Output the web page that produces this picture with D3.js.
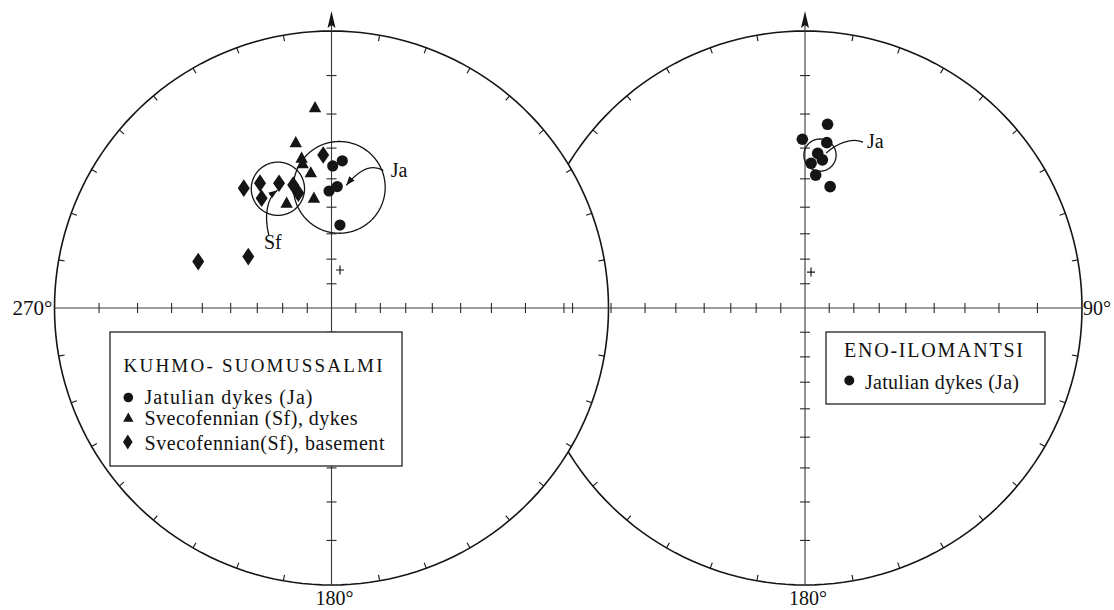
<!DOCTYPE html>
<html>
<head>
<meta charset="utf-8">
<script src="https://cdn.jsdelivr.net/npm/d3@7"></script>
<style>
  body { margin: 0; background: #fff; }
  svg { display: block; }
  text { font-family: "Liberation Serif", "Times New Roman", serif; fill: #111; }
</style>
</head>
<body>
<svg id="chart" width="1114" height="610"></svg>
<script>
// ---------------- DATA (declination °, inclination °) ----------------
const netTitles = ["KUHMO- SUOMUSSALMI", "ENO-ILOMANTSI"];

// Kuhmo-Suomussalmi
const kuhmoJaDec = [0.5, 4.2, 358.8, 2.7, 5.8];
const kuhmoJaInc = [35.7, 33.9, 44.2, 42.6, 56.5];
const kuhmoSfDykeDec = [355.3, 347.8, 348.7, 348.7, 351.3, 336.8, 350.9];
const kuhmoSfDykeInc = [18.1, 27.2, 32.3, 34.1, 37.5, 45.3, 46.3];
const kuhmoSfBaseDec = [356.9, 323.8, 330.2, 327.5, 337.2, 342.7, 343.9, 289.2, 301.7];
const kuhmoSfBaseInc = [32.1, 33.6, 35.1, 39.7, 37.9, 40.1, 43.3, 36.0, 51.1];
const kuhmoMeanLabels = ["Ja", "Sf"];
const kuhmoMeanDec = [3.7, 335.8];
const kuhmoMeanInc = [43.8, 39.8];
const kuhmoMeanA95 = [15.9, 9.0];
const kuhmoSite = [12.6, 74.0];

// Eno-Ilomantsi
const enoJaDec = [7.0, 359.1, 7.5, 4.7, 6.7, 2.4, 4.6, 11.7];
const enoJaInc = [22.5, 27.3, 27.9, 31.5, 33.4, 34.8, 38.6, 41.8];
const enoMeanLabels = ["Ja"];
const enoMeanDec = [5.6];
const enoMeanInc = [32.1];
const enoMeanA95 = [5.1];
const enoSite = [9.5, 75.0];

// legend texts
const kuhmoLegend = ["Jatulian dykes (Ja)", "Svecofennian (Sf), dykes", "Svecofennian(Sf), basement"];
const enoLegend = ["Jatulian dykes (Ja)"];

// axis / tick labels
const axisTickInc = [10, 20, 30, 40, 50, 60, 70, 80];
const rimTickStep = 10;
const dirLabels = ["270°", "90°", "180°", "180°"];

// ---------------- LAYOUT ----------------
const svg = d3.select("#chart");
const R = 277;
const centers = [[331.5, 308], [805, 308]];
const ink = "#151515";

const projs = centers.map(c =>
  d3.geoStereographic().rotate([0, -90]).scale(R).translate(c).clipAngle(170).precision(0.1)
);
const P = (proj, dec, inc) => proj([180 - dec, inc]);

const defs = svg.append("defs");
const mask = defs.append("mask").attr("id", "outsideLeft")
  .attr("maskUnits", "userSpaceOnUse").attr("x", 0).attr("y", 0).attr("width", 1114).attr("height", 610);
mask.append("rect").attr("width", 1114).attr("height", 610).attr("fill", "#fff");
mask.append("circle").attr("cx", centers[0][0]).attr("cy", centers[0][1]).attr("r", R).attr("fill", "#000");

defs.append("marker").attr("id", "arrow")
  .attr("markerUnits", "userSpaceOnUse").attr("markerWidth", 10).attr("markerHeight", 8)
  .attr("refX", 9).attr("refY", 4).attr("orient", "auto")
  .append("path").attr("d", "M0,0.5 L9,4 L0,7.5 Z").attr("fill", ink);

const gNet = svg.append("g");

// outlines + rim ticks
projs.forEach((proj, i) => {
  const c = centers[i];
  const g = gNet.append("g");
  if (i === 1) g.attr("mask", "url(#outsideLeft)");
  const horizon = d3.geoCircle().center([0, 90]).radius(90)();
  g.append("path").attr("d", d3.geoPath(proj)(horizon))
    .attr("fill", "none").attr("stroke", ink).attr("stroke-width", 1.6);
  const rim = d3.range(rimTickStep, 360, rimTickStep).filter(a => a % 90 !== 0);
  rim.forEach(az => {
    const p0 = P(proj, az, 0);
    const ux = (p0[0] - c[0]) / R, uy = (p0[1] - c[1]) / R;
    g.append("line")
      .attr("x1", p0[0]).attr("y1", p0[1])
      .attr("x2", p0[0] - 6 * ux).attr("y2", p0[1] - 6 * uy)
      .attr("stroke", ink).attr("stroke-width", 1.1);
  });
});

// horizontal axis across both nets
{
  const a = P(projs[0], 270, 0), b = P(projs[1], 90, 0);
  gNet.append("line").attr("x1", a[0]).attr("y1", a[1]).attr("x2", b[0]).attr("y2", b[1])
    .attr("stroke", "#3a3a3a").attr("stroke-width", 1.1);
}

// vertical axes with north arrow, axis ticks, site crosses
projs.forEach((proj, i) => {
  const c = centers[i];
  const top = P(proj, 0, 0), bot = P(proj, 180, 0);
  gNet.append("line").attr("x1", c[0]).attr("y1", top[1] - 14).attr("x2", bot[0]).attr("y2", bot[1])
    .attr("stroke", "#3a3a3a").attr("stroke-width", 1.1);
  gNet.append("path")
    .attr("d", `M${c[0]},${top[1] - 20} L${c[0] + 4},${top[1] - 3} L${c[0]},${top[1] - 6} L${c[0] - 4},${top[1] - 3} Z`)
    .attr("fill", ink);
  [0, 90, 180, 270].forEach(dir => {
    axisTickInc.forEach(inc => {
      const p = P(proj, dir, inc);
      const vert = (dir === 90 || dir === 270);
      gNet.append("line")
        .attr("x1", vert ? p[0] : p[0] - 5).attr("x2", vert ? p[0] : p[0] + 5)
        .attr("y1", vert ? p[1] - 5 : p[1]).attr("y2", vert ? p[1] + 5 : p[1])
        .attr("stroke", "#2a2a2a").attr("stroke-width", 1.1);
    });
  });
  const site = i === 0 ? kuhmoSite : enoSite;
  const s = P(proj, site[0], site[1]);
  gNet.append("path").attr("d", `M${s[0] - 4},${s[1]} H${s[0] + 4} M${s[0]},${s[1] - 4.5} V${s[1] + 4.5}`)
    .attr("stroke", ink).attr("stroke-width", 1.2).attr("fill", "none");
});

// direction labels
const lp = [P(projs[0], 270, 0), P(projs[1], 90, 0), P(projs[0], 180, 0), P(projs[1], 180, 0)];
svg.append("text").text(dirLabels[0]).attr("x", lp[0][0] - 2).attr("y", lp[0][1] + 7)
  .attr("text-anchor", "end").attr("font-size", 21);
svg.append("text").text(dirLabels[1]).attr("x", 1111).attr("y", lp[1][1] + 7)
  .attr("text-anchor", "end").attr("font-size", 20);
svg.append("text").text(dirLabels[2]).attr("x", lp[2][0] + 3).attr("y", 605)
  .attr("text-anchor", "middle").attr("font-size", 20);
svg.append("text").text(dirLabels[3]).attr("x", lp[3][0] + 3).attr("y", 605)
  .attr("text-anchor", "middle").attr("font-size", 20);

// ---------------- confidence circles ----------------
function confCircle(proj, dec, inc, a95) {
  const geo = d3.geoCircle().center([180 - dec, inc]).radius(a95).precision(1)();
  const path = d3.geoPath(proj);
  svg.append("path").attr("d", path(geo)).attr("fill", "none").attr("stroke", ink).attr("stroke-width", 1.3);
  const b = path.bounds(geo);
  return [(b[0][0] + b[1][0]) / 2, (b[0][1] + b[1][1]) / 2];
}
const kc = kuhmoMeanDec.map((d, i) => confCircle(projs[0], d, kuhmoMeanInc[i], kuhmoMeanA95[i]));
const ec = enoMeanDec.map((d, i) => confCircle(projs[1], d, enoMeanInc[i], enoMeanA95[i]));

// ---------------- points ----------------
const triPath = "M0,-6.8 L6.2,4.4 L-6.2,4.4 Z";
const diaPath = "M0,-8.8 L6,0 L0,8.8 L-6,0 Z";
function dots(proj, decs, incs, r) {
  decs.forEach((d, i) => {
    const p = P(proj, d, incs[i]);
    svg.append("circle").attr("cx", p[0]).attr("cy", p[1]).attr("r", r).attr("fill", ink);
  });
}
function shapes(proj, decs, incs, dPath) {
  decs.forEach((d, i) => {
    const p = P(proj, d, incs[i]);
    svg.append("path").attr("d", dPath).attr("transform", `translate(${p[0]},${p[1]})`).attr("fill", ink);
  });
}
shapes(projs[0], kuhmoSfBaseDec, kuhmoSfBaseInc, diaPath);
shapes(projs[0], kuhmoSfDykeDec, kuhmoSfDykeInc, triPath);
dots(projs[0], kuhmoJaDec, kuhmoJaInc, 5.6);
dots(projs[1], enoJaDec, enoJaInc, 5.8);

// ---------------- annotations ----------------
function leader(c, pts, arrow) {
  const [s, c1, c2, e] = pts.map(p => [c[0] + p[0], c[1] + p[1]]);
  const el = svg.append("path")
    .attr("d", `M${s} C${c1} ${c2} ${e}`)
    .attr("fill", "none").attr("stroke", ink).attr("stroke-width", 1.3);
  if (arrow) el.attr("marker-end", "url(#arrow)");
}
// Ja (left)
leader(kc[0], [[44, -17], [30, -25], [16, -13], [7, -2]], true);
svg.append("text").text(kuhmoMeanLabels[0]).attr("x", kc[0][0] + 51.5).attr("y", kc[0][1] - 10)
  .attr("font-size", 20);
// Sf
leader(kc[1], [[-9, 47], [-14, 27], [-11, 9], [-0.5, 1.5]], true);
svg.append("text").text(kuhmoMeanLabels[1]).attr("x", kc[1][0] - 14).attr("y", kc[1][1] + 60.5)
  .attr("font-size", 20);
// Ja (right)
leader(ec[0], [[43, -13], [31, -18], [16, -11], [6, -2]], false);
svg.append("text").text(enoMeanLabels[0]).attr("x", ec[0][0] + 47).attr("y", ec[0][1] - 7)
  .attr("font-size", 20);

// ---------------- legends ----------------
// left
const lg = svg.append("g");
lg.append("rect").attr("x", 110).attr("y", 332).attr("width", 292).attr("height", 134)
  .attr("fill", "#fff").attr("stroke", "#222").attr("stroke-width", 1.3);
lg.append("text").text(netTitles[0]).attr("x", 123.5).attr("y", 371.5).attr("font-size", 19)
  .attr("textLength", 259).attr("lengthAdjust", "spacing");
const lgRows = [397.5, 418, 442];
const lgBase = [404, 425, 449.5];
const lgLen = [168, 213, 240];
lg.append("circle").attr("cx", 128.3).attr("cy", lgRows[0]).attr("r", 4.8).attr("fill", ink);
lg.append("path").attr("d", "M0,-5.6 L5.2,3.8 L-5.2,3.8 Z").attr("transform", `translate(128.3,${lgRows[1]})`).attr("fill", ink);
lg.append("path").attr("d", "M0,-7.4 L4.8,0 L0,7.4 L-4.8,0 Z").attr("transform", `translate(127.8,${lgRows[2]})`).attr("fill", ink);
kuhmoLegend.forEach((t, i) => {
  lg.append("text").text(t).attr("x", 144.5).attr("y", lgBase[i]).attr("font-size", 20)
    .attr("textLength", lgLen[i]).attr("lengthAdjust", "spacing");
});
// right
const rg = svg.append("g");
rg.append("rect").attr("x", 826).attr("y", 332).attr("width", 219).attr("height", 72)
  .attr("fill", "#fff").attr("stroke", "#222").attr("stroke-width", 1.3);
rg.append("text").text(netTitles[1]).attr("x", 844).attr("y", 357).attr("font-size", 20)
  .attr("textLength", 179).attr("lengthAdjust", "spacing");
rg.append("circle").attr("cx", 849.3).attr("cy", 380.5).attr("r", 5).attr("fill", ink);
rg.append("text").text(enoLegend[0]).attr("x", 865).attr("y", 388.5).attr("font-size", 20)
  .attr("textLength", 154).attr("lengthAdjust", "spacing");
</script>
</body>
</html>
